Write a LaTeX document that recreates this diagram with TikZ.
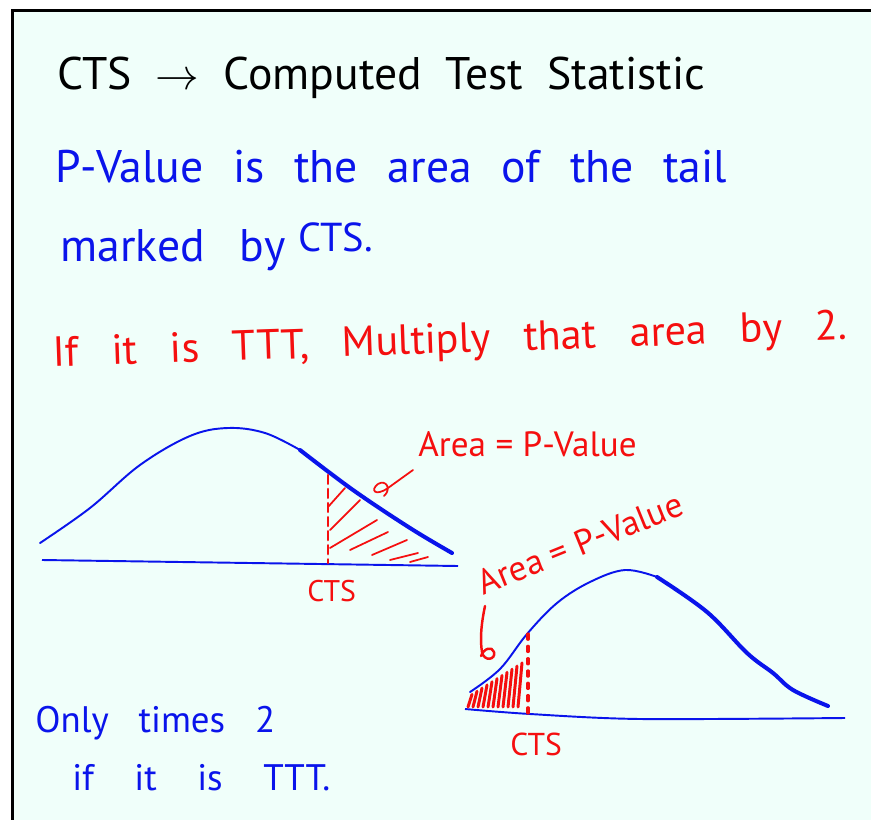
\documentclass[tikz,border=0pt]{standalone}
\usepackage{fontspec}
\setmainfont{PT Sans}
\usetikzlibrary{positioning}
\definecolor{paper}{RGB}{240,255,250}
\definecolor{inkblue}{RGB}{10,20,235}
\definecolor{inkred}{RGB}{245,15,15}

\begin{document}
\begin{tikzpicture}[
  x=0.02cm, y=-0.02cm,
  hand/.style={inner sep=0pt, anchor=base west},
  note/.style={hand, text=inkblue},
  rule/.style={hand, text=inkred},
  big/.style={font=\fontsize{26}{30}\selectfont},
  mid/.style={font=\fontsize{21}{25}\selectfont},
  small/.style={font=\fontsize{17}{20}\selectfont},
  curve/.style={draw=inkblue, line width=1.1pt, line join=round, line cap=round},
  tail/.style={draw=inkblue, line width=2.3pt, line join=round, line cap=round},
  axis/.style={draw=inkblue, line width=1.1pt},
  hatch/.style={draw=inkred, line width=1pt, line cap=round},
  ctsline/.style={draw=inkred, line width=1.5pt, line cap=round}
]
  \useasboundingbox (0,0) rectangle (871,820);
  \fill[white] (0,0) rectangle (871,820);
  \fill[paper] (12,9) rectangle (871,820);
  \draw[line width=1.7pt] (12.5,820) -- (12.5,10.5) -- (871,10.5);

  % notes
  \node[hand, big] (cts) at (57,90)
    {\makebox[12.96cm][s]{CTS $\rightarrow$ Computed Test Statistic}};
  \node[note, big] (pvalue) at (55,183)
    {\makebox[13.44cm][s]{P-Value is the area of the tail}};
  \node[note, big] (marked) at (60,262) {\makebox[4.5cm][s]{marked by}};
  \node[note, font=\fontsize{23}{26}\selectfont] (markedcts) at (298,252) {CTS.};
  \node[rule, font=\fontsize{24}{28}\selectfont, rotate=2] (twotail) at (53,367)
    {\makebox[15.9cm][s]{If it is TTT, Multiply that area by 2.}};

  % right tail
  \draw[curve] plot[smooth, tension=0.6] coordinates
    {(40,543) (90,508) (140,465) (190,436) (228,428) (265,433) (300,450)};
  \draw[tail] plot[smooth, tension=0.6] coordinates
    {(300,450) (353,490) (410,528) (452,553)};
  \draw[axis] (42,560) -- (458,566);
  \draw[ctsline, dash pattern=on 5pt off 3pt] (328,475) -- (328,563);
  \draw[hatch] (328,507) -- (345,488);
  \draw[hatch] (330,530) -- (360,500);
  \draw[hatch] (330,548) -- (377,520);
  \draw[hatch] (350,550) -- (388,532);
  \draw[hatch] (372,555) -- (407,540);
  \draw[hatch] (390,560) -- (418,553);
  \draw[hatch] (410,562) -- (428,557);
  \node[rule, font=\fontsize{20}{24}\selectfont] (area1) at (418,456) {Area = P-Value};
  \node[rule, small] (cts1) at (307,601) {CTS};
  \draw[hatch] (413,470) -- (388,488) .. controls (375,497) and (370,490) .. (378,484)
    .. controls (386,479) and (392,489) .. (384,496);

  % left tail
  \draw[curve] plot[smooth, tension=0.6] coordinates
    {(470,692) (500,669) (527,634) (557,603) (590,582) (625,570) (657,577)};
  \draw[tail] plot[smooth, tension=0.6] coordinates
    {(657,577) (707,612) (747,653) (773,673) (793,690) (828,706)};
  \draw[axis] plot[smooth] coordinates {(465,709) (530,714) (640,719) (845,718)};
  \draw[ctsline, line width=1.8pt, dash pattern=on 3pt off 4pt] (528,634) -- (528,714);
  \foreach \x in {471,476,...,521}
    \draw[hatch, line width=1.7pt] (\x-3,707) -- (\x+1,{695-0.63*(\x-470)});
  \node[text=inkred, font=\fontsize{20}{24}\selectfont, rotate=22, inner sep=0pt] (area2)
    at (580,543) {Area = P-Value};
  \node[rule, font=\fontsize{18}{21}\selectfont] (cts2) at (510,755) {CTS};
  \draw[hatch, line width=1.4pt] (485,606) .. controls (481,625) and (480,640) .. (482,652)
    .. controls (484,662) and (496,660) .. (494,652)
    .. controls (492,646) and (484,648) .. (481,656);

  \node[note, mid] (only) at (35,732) {\makebox[4.8cm][s]{Only times 2}};
  \node[note, mid] (iftt) at (72,790) {\makebox[5.16cm][s]{if it is TTT.}};
\end{tikzpicture}
\end{document}
